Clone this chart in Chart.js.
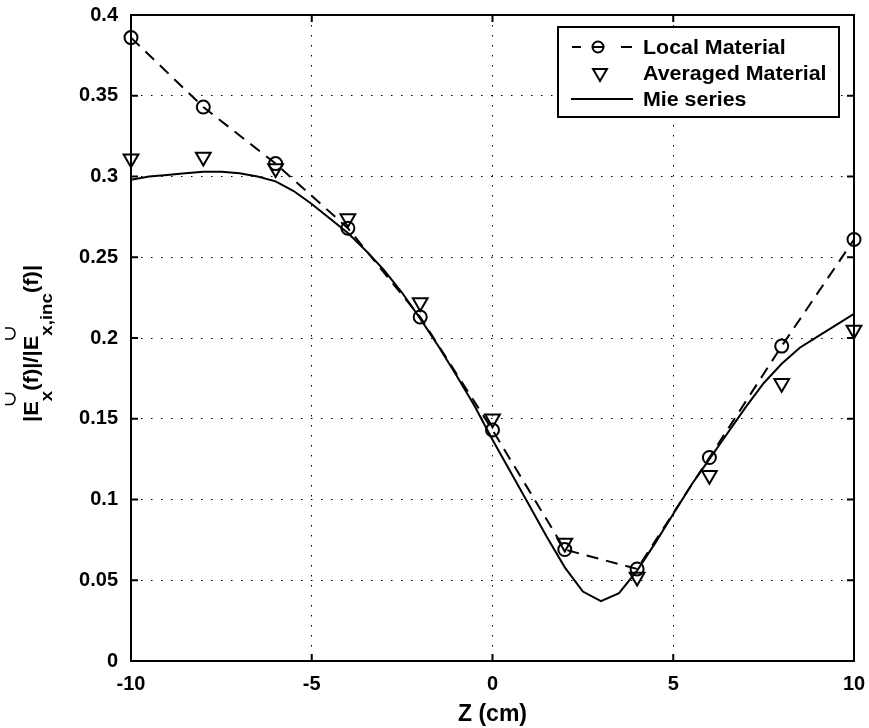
<!DOCTYPE html>
<html>
<head>
<meta charset="utf-8">
<title>Field ratio vs Z</title>
<script src="https://cdn.jsdelivr.net/npm/chart.js@4.4.1/dist/chart.umd.min.js"></script>
<style>
  html, body { margin: 0; padding: 0; background: #fff; }
  canvas { display: block; }
</style>
</head>
<body>
<canvas id="fieldChart" width="869" height="728"></canvas>
<script>
const FONT = '"Liberation Sans", Arial, Helvetica, sans-serif';

// sample positions (cm)
const zSamples = [-10, -8, -6, -4, -2, 0, 2, 4, 6, 8, 10];
const localMaterial = [0.386, 0.343, 0.308, 0.268, 0.213, 0.143, 0.069, 0.057, 0.126, 0.195, 0.261];
const averagedMaterial = [0.311, 0.312, 0.305, 0.274, 0.222, 0.150, 0.073, 0.052, 0.115, 0.172, 0.205];

// analytic reference curve
const mieZ = [-10, -9.5, -9, -8.5, -8, -7.5, -7, -6.5, -6, -5.5, -5, -4.5, -4, -3.5, -3, -2.5, -2, -1.5, -1, -0.5,
  0, 0.5, 1, 1.5, 2, 2.5, 3, 3.5, 4, 4.5, 5, 5.5, 6, 6.5, 7, 7.5, 8, 8.5, 9, 9.5, 10];
const mieSeries = [0.298, 0.300, 0.301, 0.302, 0.303, 0.303, 0.302, 0.300, 0.297, 0.291, 0.283, 0.274, 0.265, 0.254,
  0.242, 0.228, 0.212, 0.195, 0.177, 0.158, 0.137, 0.117, 0.097, 0.077, 0.058, 0.043, 0.037, 0.042, 0.056, 0.073,
  0.091, 0.109, 0.125, 0.141, 0.157, 0.172, 0.184, 0.194, 0.201, 0.208, 0.215];

const xTicks = [-10, -5, 0, 5, 10];
const yTicks = [0, 0.05, 0.1, 0.15, 0.2, 0.25, 0.3, 0.35, 0.4];

const toPoints = (xs, ys) => xs.map((x, i) => ({ x: x, y: ys[i] }));

// keep edge tick labels from pushing the plot area inward
const noOverhang = s => {
  s.paddingLeft = 0;
  s.paddingRight = 0;
  s.paddingTop = 0;
  s.paddingBottom = 0;
};

// frame with inward tick marks
const framePlugin = {
  id: 'frame',
  beforeDatasetsDraw(chart) {
    const { ctx, chartArea: a, scales } = chart;
    ctx.save();
    ctx.strokeStyle = '#000';
    ctx.lineWidth = 2;
    ctx.strokeRect(a.left, a.top, a.right - a.left, a.bottom - a.top);
    ctx.beginPath();
    xTicks.forEach(v => {
      const px = scales.x.getPixelForValue(v);
      ctx.moveTo(px, a.bottom); ctx.lineTo(px, a.bottom - 7);
      ctx.moveTo(px, a.top); ctx.lineTo(px, a.top + 7);
    });
    yTicks.forEach(v => {
      const py = scales.y.getPixelForValue(v);
      ctx.moveTo(a.left, py); ctx.lineTo(a.left + 7, py);
      ctx.moveTo(a.right, py); ctx.lineTo(a.right - 7, py);
    });
    ctx.stroke();
    ctx.restore();
  }
};

// boxed legend in the upper right corner
const legendPlugin = {
  id: 'boxLegend',
  afterDatasetsDraw(chart) {
    const ctx = chart.ctx;
    const ds = chart.data.datasets;
    const box = { x: 558, y: 27, w: 281, h: 90 };
    const rows = [47, 73, 99];
    ctx.save();
    ctx.fillStyle = '#fff';
    ctx.fillRect(box.x, box.y, box.w, box.h);
    ctx.strokeStyle = '#000';
    ctx.lineWidth = 2;
    ctx.strokeRect(box.x, box.y, box.w, box.h);

    // dashed line + circle
    ctx.beginPath();
    ctx.moveTo(572, rows[0]); ctx.lineTo(581, rows[0]);
    ctx.moveTo(593, rows[0]); ctx.lineTo(603, rows[0]);
    ctx.moveTo(621, rows[0]); ctx.lineTo(632, rows[0]);
    ctx.stroke();
    ctx.beginPath();
    ctx.arc(598, rows[0], 5.5, 0, Math.PI * 2);
    ctx.stroke();

    // downward triangle
    const r = 8;
    ctx.beginPath();
    ctx.moveTo(600, rows[1] + r);
    ctx.lineTo(600 - r * Math.sin(Math.PI / 3), rows[1] - r / 2);
    ctx.lineTo(600 + r * Math.sin(Math.PI / 3), rows[1] - r / 2);
    ctx.closePath();
    ctx.stroke();

    // solid line
    ctx.beginPath();
    ctx.moveTo(571, rows[2]); ctx.lineTo(633, rows[2]);
    ctx.stroke();

    ctx.fillStyle = '#000';
    ctx.font = 'bold 20px ' + FONT;
    ctx.textBaseline = 'middle';
    ds.forEach((d, i) => {
      ctx.save();
      ctx.translate(643, rows[i] + 1);
      ctx.scale(1.07, 1);
      ctx.fillText(d.label, 0, 0);
      ctx.restore();
    });
    ctx.restore();
  }
};

// rotated y-axis title with subscripts and accent marks
const yTitlePlugin = {
  id: 'yTitle',
  afterDraw(chart) {
    const ctx = chart.ctx;
    const big = 'bold 20px ' + FONT;
    const small = 'bold 17px ' + FONT;
    const parts = [
      { t: '|E', f: big, dy: 0, accent: true },
      { t: 'x', f: small, dy: 14 },
      { t: '(f)|/|E', f: big, dy: 0, accent: true },
      { t: 'x,inc', f: small, dy: 14 },
      { t: '(f)|', f: big, dy: 0 }
    ];
    ctx.save();
    ctx.translate(38, 422);
    ctx.rotate(-Math.PI / 2);
    ctx.scale(1.1, 1);
    ctx.fillStyle = '#000';
    ctx.strokeStyle = '#000';
    ctx.textBaseline = 'alphabetic';
    let x = 0;
    parts.forEach(p => {
      ctx.font = p.f;
      ctx.fillText(p.t, x, p.dy);
      x += ctx.measureText(p.t).width;
      if (p.accent) {
        const cx = x + 2;
        ctx.lineWidth = 1.5;
        ctx.beginPath();
        ctx.moveTo(cx - 5, -33);
        ctx.lineTo(cx - 5, -28);
        ctx.arc(cx, -28, 5, Math.PI, 0, true);
        ctx.lineTo(cx + 5, -33);
        ctx.stroke();
      }
    });
    ctx.restore();
  }
};

const ctx = document.getElementById('fieldChart').getContext('2d');
const chart = new Chart(ctx, {
  type: 'line',
  data: {
    datasets: [{
      label: 'Local Material',
      data: toPoints(zSamples, localMaterial),
      borderColor: '#000',
      borderWidth: 2,
      borderDash: [12, 8],
      pointStyle: 'circle',
      pointRadius: 6.5,
      pointBorderWidth: 2,
      pointBorderColor: '#000',
      pointBackgroundColor: 'rgba(0,0,0,0)',
      fill: false,
      clip: false
    }, {
      label: 'Averaged Material',
      data: toPoints(zSamples, averagedMaterial),
      showLine: false,
      pointStyle: 'triangle',
      pointRotation: 180,
      pointRadius: 8.5,
      pointBorderWidth: 2,
      pointBorderColor: '#000',
      pointBackgroundColor: 'rgba(0,0,0,0)',
      clip: false
    }, {
      label: 'Mie series',
      data: toPoints(mieZ, mieSeries),
      borderColor: '#000',
      borderWidth: 2,
      pointRadius: 0,
      tension: 0,
      fill: false
    }]
  },
  options: {
    responsive: false,
    devicePixelRatio: 1,
    animation: false,
    layout: { padding: { top: 15, right: 15, left: 0, bottom: 0 } },
    plugins: {
      legend: { display: false },
      tooltip: { enabled: false }
    },
    scales: {
      x: {
        type: 'linear',
        min: -10,
        max: 10,
        afterBuildTicks: s => { s.ticks = xTicks.map(v => ({ value: v })); },
        afterFit: s => { s.height = 67; noOverhang(s); },
        grid: { color: '#000', lineWidth: 1, drawTicks: false },
        border: { display: false, dash: [1.5, 8.5] },
        ticks: {
          color: '#000',
          font: { family: FONT, size: 20, weight: 'bold' },
          padding: 11,
          maxRotation: 0,
          callback: v => String(v)
        },
        title: {
          display: true,
          text: 'Z (cm)',
          color: '#000',
          font: { family: FONT, size: 23, weight: 'bold' },
          padding: { top: 0, bottom: 0 }
        }
      },
      y: {
        type: 'linear',
        min: 0,
        max: 0.4,
        afterBuildTicks: s => { s.ticks = yTicks.map(v => ({ value: v })); },
        afterFit: s => { s.width = 131; noOverhang(s); },
        grid: { color: '#000', lineWidth: 1, drawTicks: false },
        border: { display: false, dash: [1.5, 8.5] },
        ticks: {
          color: '#000',
          font: { family: FONT, size: 20, weight: 'bold' },
          padding: 13,
          callback: v => String(v)
        }
      }
    }
  },
  plugins: [framePlugin, legendPlugin, yTitlePlugin]
});
</script>
</body>
</html>
